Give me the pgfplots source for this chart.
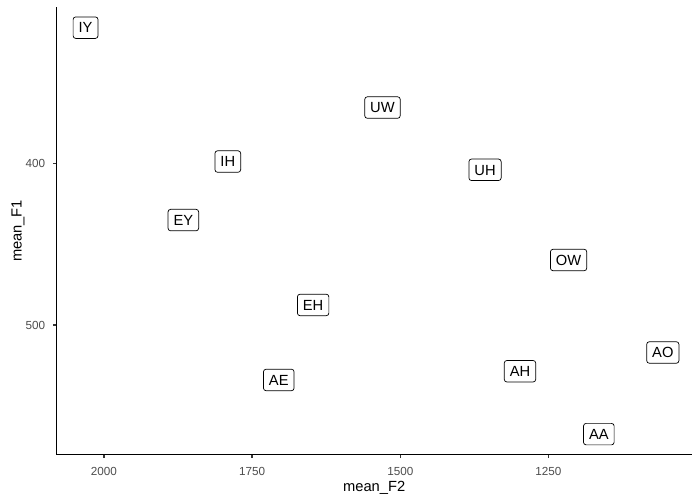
\documentclass[border=0pt]{standalone}
\usepackage{pgfplots}
\pgfplotsset{compat=1.18}
\usepackage{fontspec}
\setmainfont{Liberation Sans}
\definecolor{grey30}{HTML}{4D4D4D}
\definecolor{grey20}{HTML}{333333}
\begin{document}
\begin{tikzpicture}[x=1pt,y=1pt]
\useasboundingbox (-56.7pt,-45.5pt) rectangle (643.3pt,454.5pt);
\begin{axis}[
  at={(0pt,0pt)}, anchor=south west,
  scale only axis,
  width=635pt, height=447.2pt,
  x dir=reverse, y dir=reverse,
  xmin=1008.3, xmax=2079.7,
  ymin=303.5, ymax=580.1,
  axis line style={draw=none},
  xtick={1250,1500,1750,2000},
  ytick={400,500},
  xtick pos=bottom, ytick pos=left,
  tick align=outside,
  major tick length=3.67pt,
  every tick/.style={draw=grey20, line width=1.42pt},
  /pgf/number format/assume math mode=true,
  /pgf/number format/1000 sep={},
  ticklabel style={font=\fontsize{11.7}{13}\selectfont, text=grey30, inner sep=0pt},
  xticklabel style={anchor=north, yshift=-8.8pt},
  yticklabel style={anchor=east, xshift=-7.7pt},
  clip=false,
]
\addplot[only marks, mark=none,
  nodes near coords,
  point meta=explicit symbolic,
  nodes near coords style={anchor=center, draw=black, fill=white, text=black,
    line width=0.71pt, rounded corners=2.6pt,
    font=\fontsize{14.7}{17}\selectfont,
    text height=10.5pt, text depth=0pt, inner xsep=5.5pt, inner ysep=5.5pt},
] table[x=F2, y=F1, meta=label] {
F2    F1     label
2031  316.1  IY
1791  398.9  IH
1866  435.1  EY
1647  487.6  EH
1705  534.0  AE
1530  365.5  UW
1357  404.0  UH
1216  459.8  OW
1298  528.6  AH
1057  517.0  AO
1165  567.5  AA
};
\draw[line width=1.42pt, black, line cap=rect] (axis description cs:0,1) -- (axis description cs:0,0) -- (axis description cs:1,0);
\end{axis}
\node[anchor=base, font=\fontsize{14.7}{17}\selectfont] at (317.5pt,-36.5pt) {mean\_F2};
\node[anchor=base, rotate=90, font=\fontsize{14.7}{17}\selectfont] at (-35pt,223.6pt) {mean\_F1};
\end{tikzpicture}
\end{document}
